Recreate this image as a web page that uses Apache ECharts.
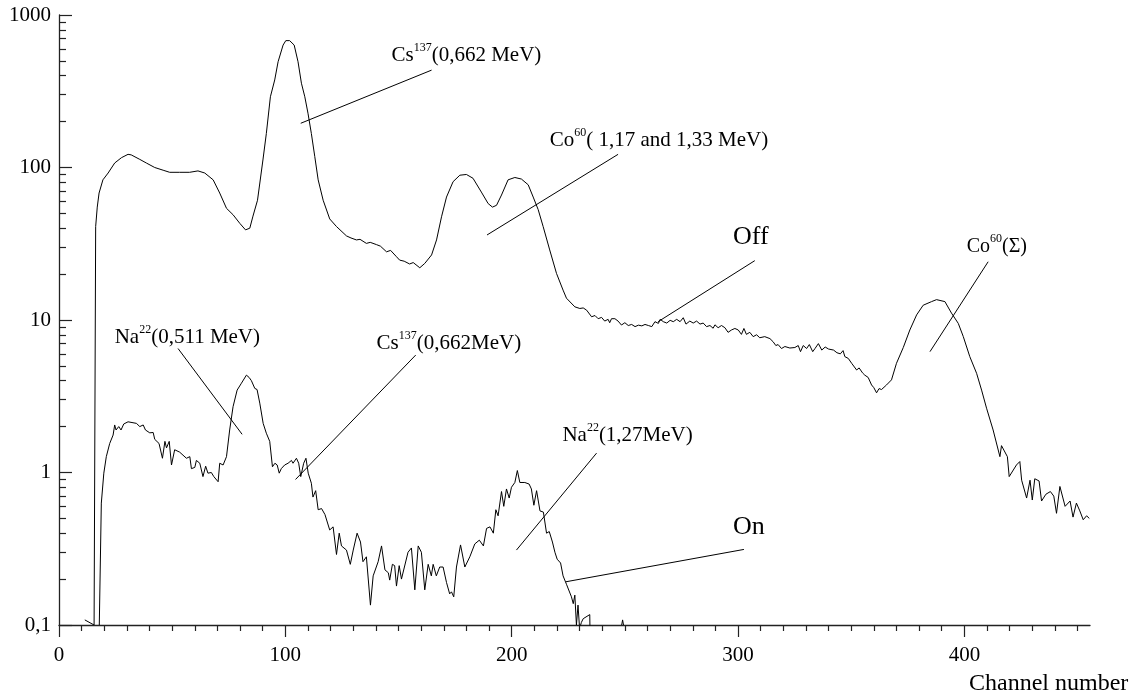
<!DOCTYPE html>
<html>
<head>
<meta charset="utf-8">
<script src="https://cdn.jsdelivr.net/npm/echarts@6/dist/echarts.min.js"></script>
<style>
html,body{margin:0;padding:0;background:#fff;}
#chart{width:1138px;height:698px;}
</style>
</head>
<body>
<div id="chart"></div>
<script>
// ---- Data ----
// "Off" spectrum: channel numbers and counts
var offChannels = [11.4,15.5,16.2,16.9,17.7,19.4,21.7,24.6,27.6,30.5,31.9,35.7,38.6,42.3,46,48.9,53.3,57.7,61.4,64.4,68.1,71,74,76.9,79.9,82.4,84.3,85.7,87.7,90.1,91.6,93.4,95.3,96.8,99,100.2,101.9,103.9,105.6,107.1,108.6,110,111.5,113,114.5,116.7,119.6,122.6,127,129,131.4,133,135.8,137.5,140.3,142,144.7,146.5,149.1,150.5,152.5,154.9,156.5,159.4,161.6,164.6,166.8,169,171.2,174.1,177.1,180,182.9,186.6,189.6,191.5,193.3,195.5,198.4,201.4,204.3,207.3,209.5,211.7,213.9,216.8,219.8,222.7,224.2,227.9,230.1,231.6,233.1,235.3,236.8,238.2,239.7,241.1,242.6,243.3,244.1,245.6,247,248.5,250,251.5,253,254.5,256,257.5,258.9,260.4,261.9,263.3,264,264.8,265.6,267,268.5,270,271.4,272.9,274.4,275.8,277,278.7,280.2,281.7,283.2,284.6,286.1,287.6,289,289.8,291.2,292.7,294.2,295.6,297.1,298.6,300.1,301.5,302.6,303.7,305.2,306.7,308.2,309.6,311.8,314.1,315.5,316.7,317.7,319.2,320.7,322.9,325.1,326.6,327.6,328.8,330.3,331.5,333,334,335.5,337,338.5,340,342.2,343.7,345.2,346.4,347.2,348.7,350.2,352.4,353.5,355,356,357.5,359,360,361.2,362.3,363.4,365.6,367.8,370,373,375.9,378.9,381.8,385.5,387.7,391.4,394.3,397.3,399.5,402.4,405.4,407.6,409.8,412.7,415.7,416.4,419,419.8,423,424.5,425.3,427.5,429,430,431.1,433,434.1,436,438,439.5,440.7,442.2,444.5,446.7,448,449.5,451,452.5,454,455.2];
var offCounts = [0.108,0.1,41,55,68,83,92,107,116,122,121,113,107,100,96,93,93,93,95,92,83,68,54,49,43,39,40,48,61,112,167,291,375,494,635,679,679,635,494,357,291,227,167,118,83,61,46,41,35.6,34.5,33.5,33.8,31.8,32.3,31.2,30.5,28,28.6,26,24.7,24.3,23.3,23.8,22,23.5,26.7,33.5,47.5,64,80.7,89,90,85,69,58,55,56.5,66,83,86,84,77,64,53,41,28.8,20.2,15.7,13.9,12.2,11.9,12.0,11.6,10.5,10.7,10.2,10.4,9.84,10.1,9.6,10.2,10.2,9.84,9.27,9.6,9.2,9.35,9.05,9.25,9.15,9.35,9.2,9.05,9.75,9.95,9.5,10.1,9.75,9.55,9.95,9.75,10.1,9.75,10.35,9.4,9.84,9.55,9.84,9.4,9.55,9.05,9.2,8.83,9.3,8.9,9.2,8.9,8.3,8.6,8.8,8.6,8.05,8.8,8.05,8.3,7.78,8.0,7.65,7.78,7.55,7.2,6.8,6.9,6.5,6.7,6.55,6.6,6.8,6.2,6.8,6.5,6.9,6.2,6.5,7.0,6.35,6.65,6.45,6.35,6.1,6.0,6.3,5.75,5.6,5.2,4.7,4.85,4.5,4.35,4.2,3.75,3.6,3.33,3.55,3.5,3.75,4.05,5.2,6.6,8.6,10.8,12.5,13.2,13.6,13.2,11.1,9.5,7.8,5.75,4.47,3.47,2.64,1.9,1.27,1.5,1.27,0.94,1.12,1.18,0.89,0.68,0.89,0.66,0.91,0.88,0.65,0.72,0.75,0.7,0.54,0.81,0.6,0.65,0.51,0.63,0.56,0.49,0.52,0.5];

// "On" spectrum: channel numbers and counts (null = gap below the axis)
var onChannels = [17.8,18.7,19.8,20.9,22.4,23.9,24.6,25.2,26.4,27.4,28.6,30.5,32.7,34.2,35.7,37.2,38.2,40.1,41.6,42.3,44.2,45.7,46.8,47.5,48.7,49.7,51.1,53.3,56.3,57.8,58.5,60,60.7,62.2,63.6,64.8,65.8,67.3,68.4,70.3,71,72.5,74,75.4,76.9,78.7,80.6,82.8,84,85,86.5,87.5,88.7,90.2,91.6,93.1,94.3,95.4,96.4,97.3,98.2,99.7,101.2,102.7,103.4,104.9,105.9,106.8,108.1,109.1,110.1,111.5,112.2,113.4,114.5,116,117.5,119.6,121.1,122.6,123.8,124.8,127,128.7,130,131.7,133.2,134.3,135.8,137.6,138.8,141,142.5,144,145.5,146.1,147.3,148.3,149.1,150.3,151.3,152,154.2,155.7,157.2,158.7,160.1,161.6,163.1,164.5,165.3,166.7,168.2,169.7,171.2,172.6,173.4,174.4,175.6,177.4,179.3,181.5,183.7,185.7,187.5,188.9,190.4,191.9,193,194,195.5,196.5,197.7,198.9,199.9,201.4,202.5,203.6,205.8,207.7,208.7,209.8,211,212.5,214,215.4,216.6,218,219.1,220.1,221.6,222.7,224.2,226.4,227.2,227.9,228.6,229.3,230,230.8,231.6,234.5,234.6,240,248.6,249,249.4];
var onCounts = [0.1,0.63,0.99,1.27,1.55,1.76,2.05,1.9,2.0,1.9,2.08,2.15,2.12,2.1,2.0,2.05,1.9,1.82,1.83,1.65,1.55,1.24,1.6,1.45,1.6,1.12,1.41,1.36,1.24,1.27,1.06,1.08,1.2,1.15,0.94,1.1,0.99,1.0,0.94,0.87,1.15,1.12,1.27,1.9,2.7,3.47,3.85,4.35,4.2,4.0,3.56,3.5,2.85,2.1,1.81,1.6,1.09,1.15,1.12,0.99,1.06,1.12,1.15,1.2,1.15,1.24,1.15,0.94,1.15,1.24,0.99,0.85,0.69,0.76,0.57,0.58,0.53,0.42,0.44,0.29,0.40,0.33,0.31,0.25,0.31,0.40,0.35,0.26,0.28,0.135,0.21,0.26,0.33,0.23,0.22,0.197,0.25,0.245,0.18,0.245,0.2,0.2,0.30,0.32,0.17,0.33,0.30,0.17,0.25,0.21,0.25,0.21,0.24,0.24,0.19,0.16,0.165,0.153,0.24,0.335,0.24,0.28,0.34,0.36,0.33,0.43,0.44,0.40,0.57,0.52,0.75,0.6,0.78,0.68,0.8,0.86,1.03,0.86,0.86,0.84,0.78,0.61,0.76,0.56,0.55,0.40,0.41,0.35,0.3,0.27,0.255,0.21,0.185,0.153,0.138,0.157,0.1,0.135,0.095,0.104,0.11,0.117,0.09,null,0.1,0.108,0.1];

// Tick values
var xMajorTicks = [0, 100, 200, 300, 400];
var xMinorTicks = [10,20,30,40,50,60,70,80,90,110,120,130,140,150,160,170,180,190,210,220,230,240,250,260,270,280,290,310,320,330,340,350,360,370,380,390,410,420,430,440,450];
var yMajorTicks = [0.1, 1, 10, 100, 1000];
var yMinorTicks = [0.2,0.3,0.4,0.5,0.6,0.7,0.8,0.9,2,3,4,5,6,7,8,9,20,30,40,50,60,70,80,90,200,300,400,500,600,700,800,900];

// Annotations: text, text anchor [channel, count], leader line from/to [channel, count]
var annoText = [
  '{m|Cs}{s|137}{m|(0,662 MeV)}',
  '{m|Co}{s|60}{m|( 1,17 and 1,33 MeV)}',
  '{b|Off}',
  '{n|Co}{t|60}{n|(Σ)}',
  '{m|Na}{s|22}{m|(0,511 MeV)}',
  '{m|Cs}{s|137}{m|(0,662MeV)}',
  '{m|Na}{s|22}{m|(1,27MeV)}',
  '{b|On}'
];
var annoAt = [[146.9,553],[216.8,153.5],[297.8,35.0],[401,31.0],[24.6,7.91],[140.3,7.18],[222.4,1.79],[297.8,0.441]];
var annoFrom = [[106.8,195],[189.1,36.1],[264.7,9.75],[384.8,6.2],[52.6,6.5],[104.5,0.90],[202.1,0.31],[223.9,0.192]];
var annoTo = [[164.6,435],[247.0,122],[307.4,24.5],[410.5,24.1],[80.9,1.78],[157.6,5.89],[237.5,1.34],[302.6,0.313]];

// ---- Chart ----
var FONT = "'Liberation Serif', 'Times New Roman', serif";
var AXIS_COLOR = '#222';

function pairs(xs, ys) {
  return xs.map(function (x, i) { return [x, ys[i] === null ? '-' : ys[i]]; });
}

var RICH = {
  m: { fontFamily: FONT, fontSize: 21, lineHeight: 24, verticalAlign: 'bottom', color: '#000' },
  s: { fontFamily: FONT, fontSize: 12, lineHeight: 11, verticalAlign: 'top', color: '#000' },
  n: { fontFamily: FONT, fontSize: 20, lineHeight: 24, verticalAlign: 'bottom', color: '#000' },
  t: { fontFamily: FONT, fontSize: 12, lineHeight: 11, verticalAlign: 'top', color: '#000' },
  b: { fontFamily: FONT, fontSize: 26, lineHeight: 28, color: '#000' }
};

var annoData = annoAt.map(function (p, i) {
  return [p[0], p[1], annoFrom[i][0], annoFrom[i][1], annoTo[i][0], annoTo[i][1]];
});

var chart = echarts.init(document.getElementById('chart'), null, { renderer: 'canvas' });

var option = {
  animation: false,
  backgroundColor: '#fff',
  grid: { left: 59, right: 48, top: 15, bottom: 73, containLabel: false, outerBoundsMode: 'none' },
  xAxis: [
    {
      type: 'value', min: 0, max: 455.5, position: 'bottom',
      axisLine: { show: true, onZero: false, lineStyle: { color: AXIS_COLOR, width: 1.3 } },
      axisTick: { show: true, inside: false, length: 12, customValues: xMajorTicks, lineStyle: { color: AXIS_COLOR, width: 1.2 } },
      axisLabel: { show: true, customValues: xMajorTicks, margin: 20, color: '#000', fontFamily: FONT, fontSize: 21 },
      splitLine: { show: false },
      name: 'Channel number', nameLocation: 'end', nameGap: -121,
      nameTextStyle: { fontFamily: FONT, fontSize: 24, color: '#000', align: 'left', verticalAlign: 'top', padding: [47, 0, 0, 0] }
    },
    {
      type: 'value', min: 0, max: 455.5, position: 'bottom',
      axisLine: { show: false, onZero: false },
      axisTick: { show: true, inside: false, length: 6, customValues: xMinorTicks, lineStyle: { color: AXIS_COLOR, width: 1.2 } },
      axisLabel: { show: false },
      splitLine: { show: false }
    }
  ],
  yAxis: [
    {
      type: 'log', logBase: 10, min: 0.1, max: 1000, position: 'left',
      axisLine: { show: true, onZero: false, lineStyle: { color: AXIS_COLOR, width: 1.3 } },
      axisTick: { show: true, inside: true, length: 13, customValues: yMajorTicks, lineStyle: { color: AXIS_COLOR, width: 1.2 } },
      axisLabel: {
        show: true, customValues: yMajorTicks, margin: 8, color: '#000', fontFamily: FONT, fontSize: 21,
        formatter: function (v) { return String(v).replace('.', ','); }
      },
      splitLine: { show: false },
      minorTick: { show: false }
    },
    {
      type: 'log', logBase: 10, min: 0.1, max: 1000, position: 'left',
      axisLine: { show: false, onZero: false },
      axisTick: { show: true, inside: true, length: 7, customValues: yMinorTicks, lineStyle: { color: AXIS_COLOR, width: 1.2 } },
      axisLabel: { show: false },
      splitLine: { show: false }
    }
  ],
  series: [
    {
      name: 'Off', type: 'line', xAxisIndex: 0, yAxisIndex: 0,
      data: pairs(offChannels, offCounts),
      showSymbol: false, symbol: 'none', clip: true, connectNulls: false,
      lineStyle: { color: '#000', width: 1 }
    },
    {
      name: 'On', type: 'line', xAxisIndex: 0, yAxisIndex: 0,
      data: pairs(onChannels, onCounts),
      showSymbol: false, symbol: 'none', clip: true, connectNulls: false,
      lineStyle: { color: '#000', width: 1 }
    },
    {
      name: 'annotations', type: 'custom', xAxisIndex: 0, yAxisIndex: 0,
      silent: true, clip: false,
      data: annoData,
      renderItem: function (params, api) {
        var i = params.dataIndex;
        var t = api.coord([api.value(0), api.value(1)]);
        var a = api.coord([api.value(2), api.value(3)]);
        var b = api.coord([api.value(4), api.value(5)]);
        return {
          type: 'group',
          children: [
            { type: 'line', shape: { x1: a[0], y1: a[1], x2: b[0], y2: b[1] }, style: { stroke: '#000', lineWidth: 1 } },
            { type: 'text', x: t[0], y: t[1], style: { text: annoText[i], rich: RICH, align: 'left', verticalAlign: 'middle', fill: '#000' } }
          ]
        };
      }
    }
  ]
};

chart.setOption(option);
</script>
</body>
</html>
